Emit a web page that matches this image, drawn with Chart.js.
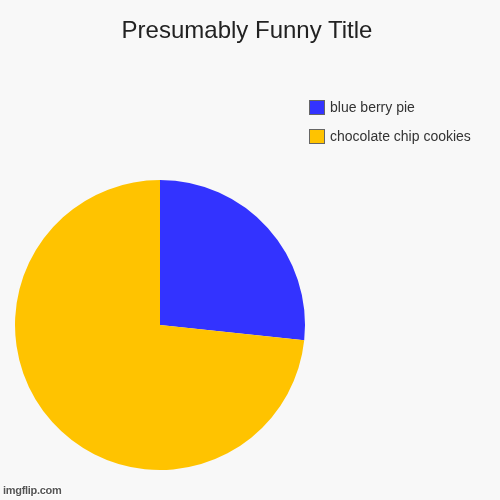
<!DOCTYPE html>
<html>
<head>
<meta charset="utf-8">
<script src="https://cdn.jsdelivr.net/npm/chart.js@4"></script>
<style>
  html, body { margin: 0; padding: 0; background: #f8f8f8; }
  #wrap { position: relative; width: 500px; height: 500px; background: #f8f8f8; font-family: "Liberation Sans", Arial, sans-serif; }
  #pieChart { position: absolute; left: 0; top: 0; }
  #title { position: absolute; left: 0; width: 494px; top: 18px; text-align: center; font-size: 24px; line-height: 24px; color: #222; }
  #legend { position: absolute; left: 309px; top: 99px; }
  .item { display: flex; align-items: center; height: 16px; margin-bottom: 13px; font-size: 14px; color: #333; }
  .box { width: 14px; height: 13px; border: 1px solid #666; margin-right: 5px; }
  #mark { position: absolute; left: 3px; top: 484px; font-size: 11px; font-weight: bold; color: #555; letter-spacing: -0.3px;
    text-shadow: 1px 0 #fff, -1px 0 #fff, 0 1px #fff, 0 -1px #fff; }
</style>
</head>
<body>
<div id="wrap">
  <canvas id="pieChart" width="500" height="500"></canvas>
  <div id="title"></div>
  <div id="legend"></div>
  <div id="mark">imgflip.com</div>
</div>
<script>
const chartTitle = "Presumably Funny Title";
const labels = ["blue berry pie", "chocolate chip cookies"];
const values = [4, 11];
const colors = ["#3333ff", "#ffc300"];

document.querySelector("#title").textContent = chartTitle;

const legend = document.querySelector("#legend");
labels.forEach((label, i) => {
  const item = document.createElement("div");
  item.className = "item";
  const box = document.createElement("span");
  box.className = "box";
  box.style.background = colors[i];
  const text = document.createElement("span");
  text.textContent = label;
  item.appendChild(box);
  item.appendChild(text);
  legend.appendChild(item);
});

const canvas = document.querySelector("#pieChart");
const pieChart = new Chart(canvas, {
  type: "pie",
  data: {
    labels: labels,
    datasets: [
      {
        data: values,
        backgroundColor: colors,
        borderWidth: 0,
      },
    ],
  },
  options: {
    responsive: false,
    animation: false,
    layout: {
      padding: { left: 15, top: 180, right: 195, bottom: 30 },
    },
    plugins: {
      legend: { display: false },
      tooltip: { enabled: false },
    },
  },
});
</script>
</body>
</html>
